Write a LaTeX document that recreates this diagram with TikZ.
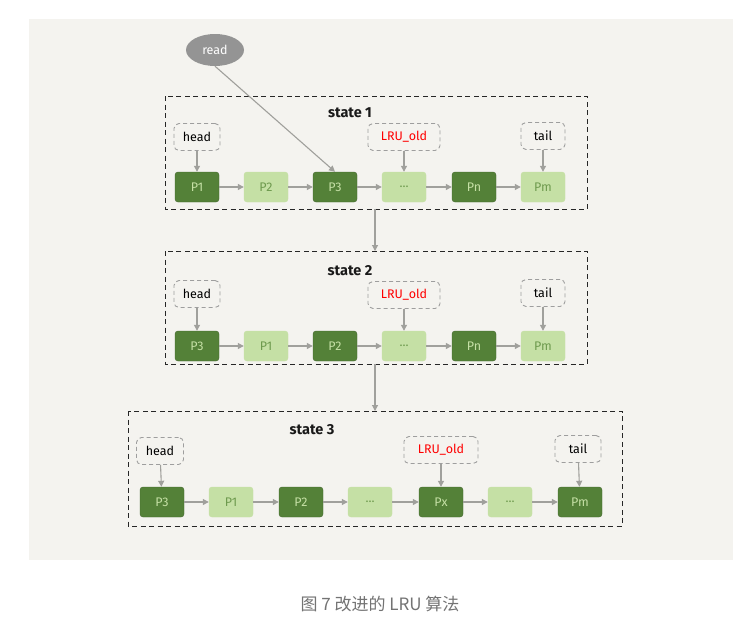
\documentclass[tikz,border=0pt]{standalone}
\usepackage{fontspec}
\setmainfont{Fira Sans}
\newfontfamily\cjk{Noto Sans CJK SC}
\usetikzlibrary{arrows.meta,shapes.geometric}
\definecolor{panel}{HTML}{F4F3EF}
\definecolor{dkg}{HTML}{548138}
\definecolor{ltg}{HTML}{C5E0A5}
\definecolor{dktxt}{HTML}{C5E0A5}
\definecolor{lttxt}{HTML}{6E9A4E}
\definecolor{lnk}{HTML}{A0A09C}
\definecolor{ptr}{HTML}{9E9E9E}
\tikzset{
  pg/.style={minimum width=44pt,minimum height=30pt,rounded corners=3pt,inner sep=0pt,font=\fontsize{12.5}{13}\selectfont},
  pdark/.style={pg,fill=dkg,draw=dkg!80!black,text=dktxt},
  plight/.style={pg,fill=ltg,draw=ltg,text=lttxt},
  ptrbox/.style={draw=ptr,line width=0.9pt,dash pattern=on 4pt off 3pt,rounded corners=5pt,minimum height=27pt,inner sep=0pt,fill=panel,font=\fontsize{12.5}{14}\selectfont},
  statebox/.style={draw=black!85,line width=1pt,dash pattern=on 5pt off 3.5pt},
  link/.style={draw=lnk,line width=1.1pt,-{Triangle[length=6pt,width=6pt]}},
  title/.style={font=\bfseries\fontsize{14.5}{16}\selectfont,text=black!90}
}
\begin{document}
\begin{tikzpicture}[x=1pt,y=-1pt]
\useasboundingbox (0,0) rectangle (755,635);
\fill[white] (0,0) rectangle (755,635);
\fill[panel] (29,19) rectangle (733,560);

% read
\node[ellipse,fill=black!42,minimum width=58pt,minimum height=32pt,inner sep=0pt,text=white,font=\fontsize{12.5}{14}\selectfont] (read) at (215,50) {read};

% state 1
\draw[statebox] (165,96) rectangle (587,209);
\node[title] (t1) at (350,113) {state 1};
\coordinate (s1b) at (375,209);
\node[pdark] (a1) at (197,187) {P1};
\node[plight] (a2) at (266,187) {P2};
\node[pdark] (a3) at (335,187) {P3};
\node[plight] (a4) at (404,187) {...};
\node[pdark] (a5) at (474,187) {Pn};
\node[plight] (a6) at (543,187) {Pm};
\node[ptrbox,minimum width=46pt] (h1) at (197,137) {head};
\node[ptrbox,minimum width=72pt,text=red] (l1) at (404,137) {LRU\_old};
\node[ptrbox,minimum width=44pt] (e1) at (543,136) {tail};
\foreach \i/\j in {a1/a2,a2/a3,a3/a4,a4/a5,a5/a6} \draw[link] (\i) -- (\j);
\draw[link] (h1) -- (a1);
\draw[link] (l1) -- (a4);
\draw[link] (e1) -- (a6);
\draw[link] (read.south) -- (a3.north);

% state 2
\draw[statebox] (165,251) rectangle (587,364);
\node[title] (t2) at (350,271) {state 2};
\coordinate (s2t) at (375,251);
\coordinate (s2b) at (375,364);
\node[pdark] (b1) at (197,346) {P3};
\node[plight] (b2) at (266,346) {P1};
\node[pdark] (b3) at (335,346) {P2};
\node[plight] (b4) at (404,346) {...};
\node[pdark] (b5) at (474,346) {Pn};
\node[plight] (b6) at (543,346) {Pm};
\node[ptrbox,minimum width=46pt] (h2) at (197,294) {head};
\node[ptrbox,minimum width=72pt,text=red] (l2) at (404,295) {LRU\_old};
\node[ptrbox,minimum width=44pt] (e2) at (543,293) {tail};
\foreach \i/\j in {b1/b2,b2/b3,b3/b4,b4/b5,b5/b6} \draw[link] (\i) -- (\j);
\draw[link] (h2) -- (b1);
\draw[link] (l2) -- (b4);
\draw[link] (e2) -- (b6);
\draw[link] (s1b) -- (s2t);

% state 3
\draw[statebox] (128,411) rectangle (622,526);
\node[title] (t3) at (312,430) {state 3};
\coordinate (s3t) at (375,411);
\node[pdark] (c1) at (162,502) {P3};
\node[plight] (c2) at (231,502) {P1};
\node[pdark] (c3) at (301,502) {P2};
\node[plight] (c4) at (370,502) {...};
\node[pdark] (c5) at (441,502) {Px};
\node[plight] (c6) at (510,502) {...};
\node[pdark] (c7) at (580,502) {Pm};
\node[ptrbox,minimum width=47pt] (h3) at (160,451) {head};
\node[ptrbox,minimum width=74pt,text=red] (l3) at (441,450) {LRU\_old};
\node[ptrbox,minimum width=46pt] (e3) at (578,449) {tail};
\foreach \i/\j in {c1/c2,c2/c3,c3/c4,c4/c5,c5/c6,c6/c7} \draw[link] (\i) -- (\j);
\draw[link] (h3) -- (c1);
\draw[link] (l3) -- (c5);
\draw[link] (e3) -- (c7);
\draw[link] (s2b) -- (s3t);

% caption
\node[font=\cjk\fontsize{17}{19}\selectfont,text=black!55] (cap) at (380,604) {图 7 改进的 LRU 算法};
\end{tikzpicture}
\end{document}
